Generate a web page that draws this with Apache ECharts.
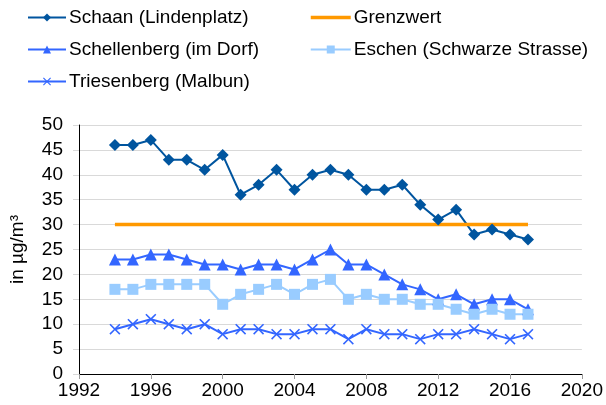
<!DOCTYPE html>
<html>
<head>
<meta charset="utf-8">
<script src="https://cdn.jsdelivr.net/npm/echarts@6/dist/echarts.min.js"></script>
<style>
  html, body { margin: 0; padding: 0; background: #fff; }
  #chart { width: 606px; height: 405px; }
</style>
</head>
<body>
<div id="chart"></div>
<script>
var years = [1994, 1995, 1996, 1997, 1998, 1999, 2000, 2001, 2002, 2003, 2004, 2005,
  2006, 2007, 2008, 2009, 2010, 2011, 2012, 2013, 2014, 2015, 2016, 2017];
var schaan = [46, 46, 47, 43, 43, 41, 44, 36, 38, 41, 37, 40, 41, 40, 37, 37, 38, 34, 31, 33, 28, 29, 28, 27];
var schellenberg = [23, 23, 24, 24, 23, 22, 22, 21, 22, 22, 21, 23, 25, 22, 22, 20, 18, 17, 15, 16, 14, 15, 15, 13];
var eschen = [17, 17, 18, 18, 18, 18, 14, 16, 17, 18, 16, 18, 19, 15, 16, 15, 15, 14, 14, 13, 12, 13, 12, 12];
var triesenberg = [9, 10, 11, 10, 9, 10, 8, 9, 9, 8, 8, 9, 9, 7, 9, 8, 8, 7, 8, 8, 9, 8, 7, 8];
var grenzwert = [30, 30];
var grenzwertYears = [1994, 2017];

function pairs(xs, ys) {
  return xs.map(function (x, i) { return [x, ys[i]]; });
}

var crossPath = 'path://M0,1L1,0L5,4L9,0L10,1L6,5L10,9L9,10L5,6L1,10L0,9L4,5Z';
var font = 'Liberation Sans, Arial, sans-serif';
var legendText = { fontSize: 19, color: '#000', fontFamily: font, padding: [0, 0, 0, -2] };

var chart = echarts.init(document.getElementById('chart'));

var option = {
  animation: false,
  textStyle: { fontFamily: font },
  grid: { left: 77, right: 22, top: 125, bottom: 31 },
  legend: [{
    orient: 'vertical',
    left: 22,
    top: 3,
    itemWidth: 38,
    itemHeight: 10,
    itemGap: 13,
    textStyle: legendText,
    data: ['Schaan (Lindenplatz)', 'Schellenberg (im Dorf)', 'Triesenberg (Malbun)']
  }, {
    orient: 'vertical',
    left: 304,
    top: 3,
    itemWidth: 40,
    itemHeight: 10,
    itemGap: 13,
    textStyle: legendText,
    data: [
      { name: 'Grenzwert', itemStyle: { opacity: 0 }, lineStyle: { width: 3.5 } },
      'Eschen (Schwarze Strasse)'
    ]
  }],
  xAxis: {
    type: 'value',
    min: 1992,
    max: 2020,
    interval: 4,
    axisLine: { lineStyle: { color: '#000', width: 1 } },
    axisTick: { show: true, length: 5, lineStyle: { color: '#999' } },
    axisLabel: { fontSize: 19, color: '#000', margin: 7, formatter: function (v) { return String(v); } },
    splitLine: { show: false }
  },
  yAxis: {
    type: 'value',
    min: 0,
    max: 50,
    interval: 5,
    name: 'in µg/m³',
    nameLocation: 'middle',
    nameGap: 52,
    nameTextStyle: { fontSize: 19, color: '#000' },
    axisLine: { show: true, lineStyle: { color: '#000', width: 1 } },
    axisTick: { show: true, length: 6, lineStyle: { color: '#d9d9d9' } },
    axisLabel: { fontSize: 19, color: '#000', margin: 16 },
    splitLine: { show: true, lineStyle: { color: '#d9d9d9', width: 1 } }
  },
  series: [{
    name: 'Schaan (Lindenplatz)',
    type: 'line',
    data: pairs(years, schaan),
    symbol: 'diamond',
    symbolSize: 12,
    color: '#00559f',
    lineStyle: { width: 2 }
  }, {
    name: 'Grenzwert',
    type: 'line',
    data: pairs(grenzwertYears, grenzwert),
    symbol: 'none',
    color: '#ff9900',
    lineStyle: { width: 3.5 }
  }, {
    name: 'Schellenberg (im Dorf)',
    type: 'line',
    data: pairs(years, schellenberg),
    symbol: 'triangle',
    symbolSize: 12,
    color: '#3366ff',
    lineStyle: { width: 2 }
  }, {
    name: 'Eschen (Schwarze Strasse)',
    type: 'line',
    data: pairs(years, eschen),
    symbol: 'rect',
    symbolSize: 11,
    color: '#99ccff',
    lineStyle: { width: 2 }
  }, {
    name: 'Triesenberg (Malbun)',
    type: 'line',
    data: pairs(years, triesenberg),
    symbol: crossPath,
    symbolSize: 11,
    color: '#3366ff',
    lineStyle: { width: 2 }
  }]
};

chart.setOption(option);
</script>
</body>
</html>
